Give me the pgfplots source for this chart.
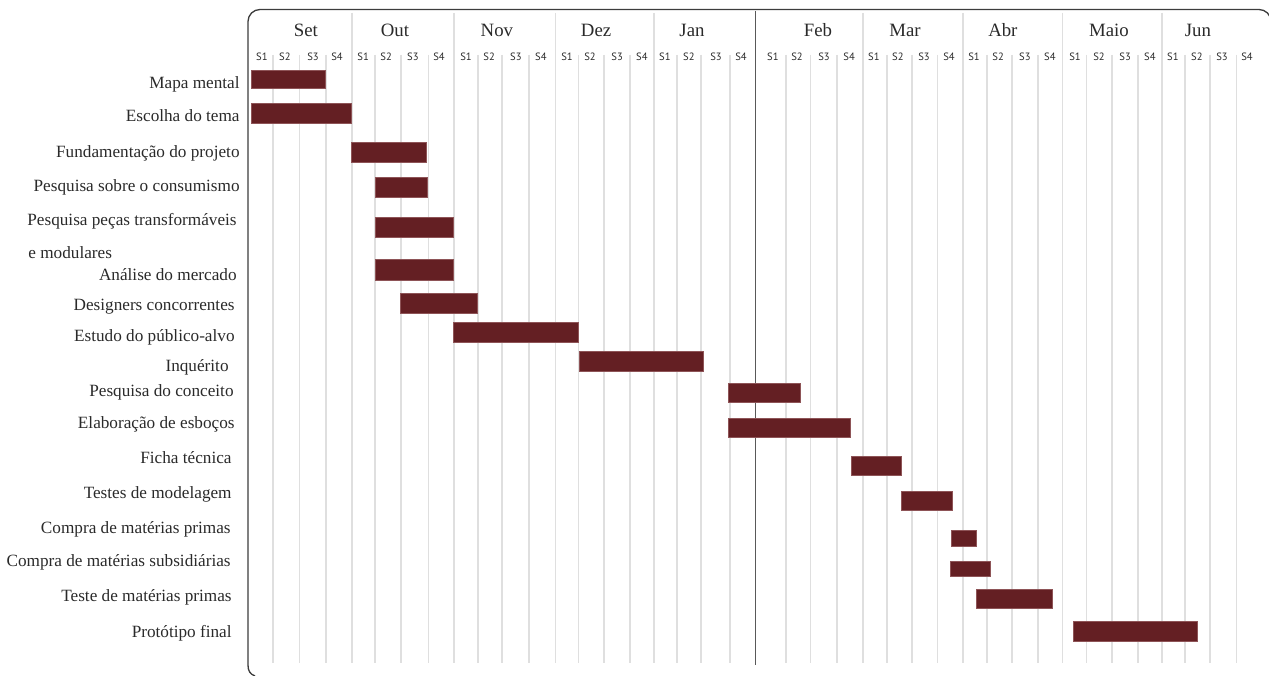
\documentclass[border=0pt]{standalone}
\usepackage{fontspec}
\setmainfont{Liberation Serif}
\newfontfamily\sflab{PT Sans}
\usepackage{pgfplots}
\pgfplotsset{compat=1.18}

\definecolor{barred}{HTML}{641F23}
\definecolor{baredge}{HTML}{8E5457}
\definecolor{gridc}{HTML}{DFDFDF}
\definecolor{framec}{HTML}{3C3C3C}
\definecolor{txt}{HTML}{2A2A2A}

\newcommand{\taskfont}{\fontsize{8.6}{10}\selectfont\color{txt}}
\newcommand{\monthfont}{\fontsize{9.4}{11}\selectfont\color{txt}}
\newcommand{\weekfont}{\sflab\fontsize{5.3}{6}\selectfont\color{txt}}

% one bar: start week, end week, top, bottom
\newcommand{\task}[4]{\addplot[fill=barred, draw=baredge, line width=0.3pt] coordinates {(#1,#3) (#2,#3) (#2,#4) (#1,#4)} -- cycle;}

\begin{document}
\begin{tikzpicture}
\path[use as bounding box] (0,0) rectangle (634.5pt,337.5pt);
\begin{axis}[
  at={(124pt,1.5pt)}, anchor=south west,
  scale only axis, width=510pt, height=331pt,
  xmin=-0.12, xmax=40.2, ymin=3, ymax=665,
  clip=false,
  axis line style={draw=none},
  major tick style={draw=none},
  xtick pos=upper, xticklabel pos=upper,
  xtick={0.43,1.34,2.45,3.40, 4.43,5.34,6.40,7.43, 8.50,9.41,10.47,11.46,
         12.49,13.40,14.47,15.45, 16.36,17.31,18.38,19.37, 20.63,21.58,22.65,23.64,
         24.62,25.57,26.60,27.59, 28.58,29.53,30.59,31.58, 32.57,33.52,34.55,35.53,
         36.44,37.39,38.38,39.37},
  xticklabels={S1,S2,S3,S4,S1,S2,S3,S4,S1,S2,S3,S4,S1,S2,S3,S4,S1,S2,S3,S4,
               S1,S2,S3,S4,S1,S2,S3,S4,S1,S2,S3,S4,S1,S2,S3,S4,S1,S2,S3,S4},
  xticklabel style={font=\weekfont, anchor=base, inner sep=0pt},
  xticklabel shift=-25.5pt,
  extra x ticks={2.17,5.69,9.72,13.64,17.43,22.41,25.85,29.72,33.91,37.43},
  extra x tick labels={Set,Out,Nov,Dez,Jan,Feb,Mar,Abr,Maio,Jun},
  extra x tick style={xticklabel style={font=\monthfont}, xticklabel shift=-13.5pt},
  ytick={586,553,517,483,449,394,364,333,303,278,246,211,177,142,108,74,38},
  yticklabels={
    Mapa mental,
    Escolha do tema,
    Fundamentação do projeto,
    Pesquisa sobre o consumismo,
    Pesquisa peças transformáveis\kern1.5pt,
    Análise do mercado\kern1.5pt,
    Designers concorrentes\kern2.5pt,
    Estudo do público-alvo\kern2.5pt,
    Inquérito\kern5.5pt,
    Pesquisa do conceito\kern3pt,
    Elaboração de esboços\kern2.5pt,
    Ficha técnica\kern4pt,
    Testes de modelagem\kern4pt,
    Compra de matérias primas\kern4.5pt,
    Compra de matérias subsidiárias\kern4.5pt,
    Teste de matérias primas\kern4pt,
    Protótipo final\kern4pt},
  yticklabel style={font=\taskfont, anchor=base east, inner sep=0pt},
  yticklabel shift=4pt,
]
% week grid
\pgfplotsinvokeforeach{0.87,1.90,2.96,4.90,5.93,7.0,8.97,9.92,10.99,12.96,13.95,14.98,
  16.84,17.79,18.93,21.15,22.13,23.16,25.14,26.13,27.15,29.09,30.08,31.11,
  33.04,34.03,35.06,36.92,37.91,38.97}{
  \draw[gridc, line width=0.6pt] (axis cs:#1,620) -- (axis cs:#1,12);
}
% month separators
\pgfplotsinvokeforeach{3.99,8.02,12.02,15.93,24.19,28.14,32.09,36.01}{
  \draw[gridc, line width=0.6pt] (axis cs:#1,662) -- (axis cs:#1,12);
}
\draw[framec!85, line width=0.5pt] (axis cs:19.96,664) -- (axis cs:19.96,10);

\task{0}{2.92}{605}{587}
\task{0}{3.95}{571.7}{551.7}
\task{3.96}{6.92}{532.3}{512.3}
\task{4.90}{6.96}{497.3}{477.3}
\task{4.90}{7.98}{457.7}{437.7}
\task{4.90}{7.98}{415.7}{395}
\task{5.92}{8.93}{381.7}{362}
\task{7.98}{12.95}{352.3}{332.7}
\task{12.96}{17.86}{323.3}{303.3}
\task{18.87}{21.73}{291.7}{273}
\task{18.87}{23.69}{256.3}{237.3}
\task{23.74}{25.70}{218.3}{200}
\task{25.69}{27.72}{184}{164.7}
\task{27.67}{28.66}{145}{128.3}
\task{27.66}{29.21}{113.3}{99}
\task{28.68}{31.67}{86}{66.7}
\task{32.52}{37.42}{53.3}{34}
\end{axis}
\begin{scope}[x=0.5pt, y=0.5pt]
\draw[framec, line width=0.65pt] (255,-1) .. controls (250,1) and (248,4) .. (248,10)
  [rounded corners=6pt] -- (248,665.5) -- (1271,665.5) -- (1271,640);
\node[font=\taskfont, anchor=base west, inner sep=0pt] at (28,416) {e modulares};
\end{scope}
\end{tikzpicture}
\end{document}
